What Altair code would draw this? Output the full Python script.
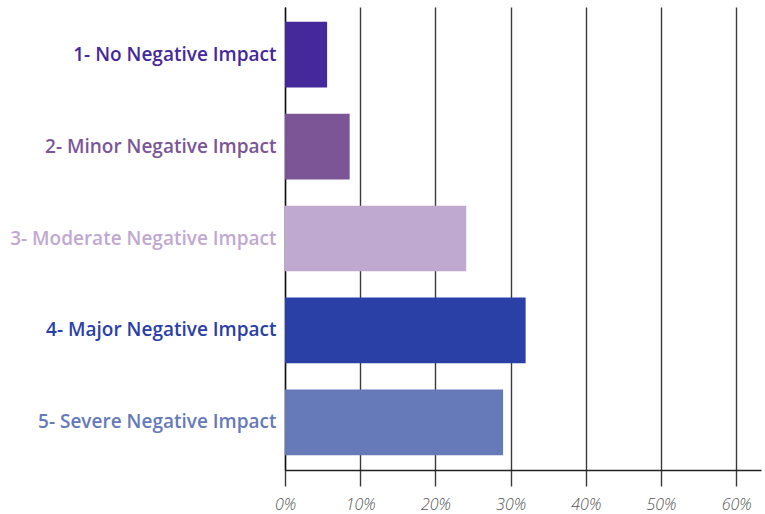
import altair as alt
import pandas as pd

categories = [
    "1- No Negative Impact",
    "2- Minor Negative Impact",
    "3- Moderate Negative Impact",
    "4- Major Negative Impact",
    "5- Severe Negative Impact",
]
shares = [0.056, 0.086, 0.241, 0.320, 0.290]
colors = ["#45289a", "#7b5596", "#bfa9d0", "#2a40a6", "#6679b8"]
tick_values = [0.0, 0.1, 0.2, 0.3, 0.4, 0.5, 0.6]

df = pd.DataFrame({"category": categories, "share": shares})

# per-category label colour, as a nested ternary expression
label_color_expr = "'#333333'"
for cat, col in reversed(list(zip(categories, colors))):
    label_color_expr = f"datum.value === '{cat}' ? '{col}' : " + label_color_expr

chart = (
    alt.Chart(df)
    .mark_bar()
    .encode(
        x=alt.X(
            "share:Q",
            scale=alt.Scale(domain=[0, 0.633], nice=False),
            axis=alt.Axis(
                title=None,
                format=".0%",
                values=tick_values,
                grid=True,
                gridColor="#3a3a3a",
                gridWidth=1.4,
                domainColor="#222222",
                domainWidth=1.4,
                tickColor="#3a3a3a",
                tickWidth=1.4,
                tickSize=16,
                labelPadding=10,
                labelFlush=False,
                labelFont="Open Sans",
                labelFontStyle="italic",
                labelFontWeight=300,
                labelFontSize=16,
                labelColor="#555555",
            ),
        ),
        y=alt.Y(
            "category:N",
            sort=categories,
            scale=alt.Scale(paddingInner=0.285, paddingOuter=0.16),
            axis=alt.Axis(
                title=None,
                ticks=False,
                grid=False,
                domainColor="#111111",
                domainWidth=1.4,
                labelPadding=9,
                labelFont="Open Sans",
                labelFontWeight=600,
                labelFontSize=19,
                labelLimit=300,
                labelColor=alt.ExprRef(label_color_expr),
            ),
        ),
        color=alt.Color(
            "category:N",
            scale=alt.Scale(domain=categories, range=colors),
            legend=None,
        ),
    )
    .properties(
        width=476,
        height=463,
        autosize=alt.AutoSizeParams(type="none"),
        padding={"left": 285, "top": 7, "right": 4, "bottom": 44},
    )
    .configure_view(stroke=None)
)

chart.save("out.html", embed_options={"renderer": "svg", "actions": False})
